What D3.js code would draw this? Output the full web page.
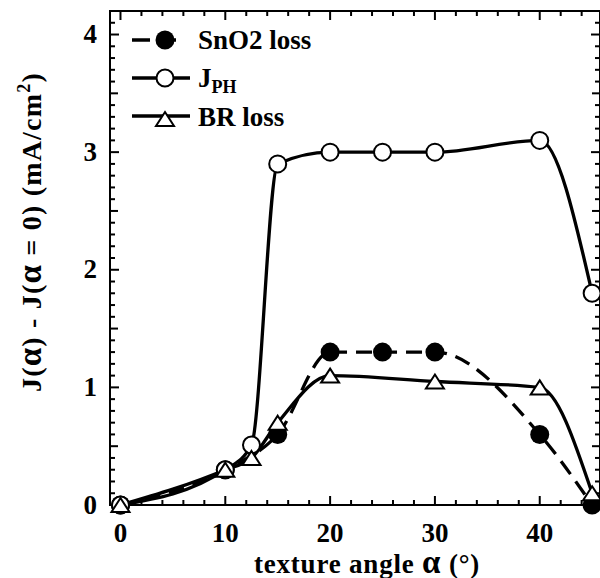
<!DOCTYPE html>
<html><head><meta charset="utf-8">
<script src="https://cdn.jsdelivr.net/npm/d3@7"></script>
<style>body{margin:0;background:#fff}svg{display:block}</style>
</head><body><svg id="c" width="600" height="578" font-family="Liberation Serif" font-weight="bold"></svg>
<script>
// Data
const angleJPH = [0, 10, 12.5, 15, 20, 25, 30, 40, 45];
const valJPH   = [0, 0.30, 0.51, 2.90, 3.00, 3.00, 3.00, 3.10, 1.80];
const angleSnO2 = [0, 10, 15, 20, 25, 30, 40, 45];
const valSnO2   = [0, 0.30, 0.60, 1.30, 1.30, 1.30, 0.60, 0.00];
const angleBR = [0, 10, 12.5, 15, 20, 30, 40, 45];
const valBR   = [0, 0.30, 0.40, 0.70, 1.10, 1.05, 1.00, 0.10];
const xTicks = [0, 10, 20, 30, 40];
const yTicks = [0, 1, 2, 3, 4];
const legendLabels = ["SnO2 loss", "J", "BR loss"];

const svg = d3.select("#c");
const FONT = "Liberation Serif";
function txt(sel) { return sel.append("text").attr("font-family", FONT).attr("font-weight", "bold").attr("fill", "#000"); }

const L = 110, R = 600, T = 11, B = 505;
const x = d3.scaleLinear().domain([-1, 45.75]).range([L, R]);
const y = d3.scaleLinear().domain([0, 4.2]).range([B, T]);

// frame
svg.append("rect").attr("x", L).attr("y", T).attr("width", R - L).attr("height", B - T)
  .attr("fill", "none").attr("stroke", "#000").attr("stroke-width", 2);

// ticks
const xMinor = d3.range(0, 45, 2);
const yMinor = d3.range(0, 42).map(i => i / 10);
const g = svg.append("g").attr("stroke", "#000").attr("stroke-width", 2);
xMinor.forEach(v => {
  const len = (v % 10 === 0) ? 9 : 5;
  g.append("line").attr("x1", x(v)).attr("x2", x(v)).attr("y1", B).attr("y2", B - len);
  g.append("line").attr("x1", x(v)).attr("x2", x(v)).attr("y1", T).attr("y2", T + len);
});
yMinor.forEach(v => {
  const r10 = Math.round(v * 10);
  const len = (r10 % 10 === 0) ? 9 : (r10 % 5 === 0 ? 8 : 5);
  g.append("line").attr("x1", L).attr("x2", L + len).attr("y1", y(v)).attr("y2", y(v));
  g.append("line").attr("x1", R).attr("x2", R - len).attr("y1", y(v)).attr("y2", y(v));
});

// tick labels
xTicks.forEach(d => txt(svg).attr("x", x(d)).attr("y", 542).attr("text-anchor", "middle").attr("font-size", 27).text(d));
yTicks.forEach(d => txt(svg).attr("x", 97).attr("y", y(d) + 8.5).attr("text-anchor", "end").attr("font-size", 27).text(d));

// axis titles
const xl = txt(svg).attr("x", 367).attr("y", 573).attr("text-anchor", "middle").attr("font-size", 27).attr("letter-spacing", 0.8);
xl.append("tspan").text("texture angle ");
xl.append("tspan").attr("font-size", 33).text("α");
xl.append("tspan").text(" (°)");
const yl = txt(svg).attr("transform", "translate(41,232) rotate(-90)").attr("text-anchor", "middle").attr("font-size", 28).attr("letter-spacing", 1.2);
yl.append("tspan").text("J(");
yl.append("tspan").attr("font-size", 33).text("α");
yl.append("tspan").text(") - J(");
yl.append("tspan").attr("font-size", 33).text("α");
yl.append("tspan").text(" = 0) (mA/cm");
yl.append("tspan").attr("font-size", 18).attr("dy", -11).text("2");
yl.append("tspan").attr("dy", 11).text(")");

// lines
const line = d3.line().x(d => x(d[0])).y(d => y(d[1])).curve(d3.curveMonotoneX);
const sJ = d3.zip(angleJPH, valJPH), sS = d3.zip(angleSnO2, valSnO2), sB = d3.zip(angleBR, valBR);
svg.append("path").attr("d", line(sS)).attr("fill", "none").attr("stroke", "#000").attr("stroke-width", 3.3).attr("stroke-dasharray", "16,9");
svg.append("path").attr("d", line(sB)).attr("fill", "none").attr("stroke", "#000").attr("stroke-width", 3.3);
svg.append("path").attr("d", line(sJ)).attr("fill", "none").attr("stroke", "#000").attr("stroke-width", 3.3);

const triPath = "M0,-7L9,7L-9,7Z";
function marker(sel, kind, cx, cy) {
  if (kind === "filled") sel.append("circle").attr("cx", cx).attr("cy", cy).attr("r", 9.5).attr("fill", "#000");
  else if (kind === "open") sel.append("circle").attr("cx", cx).attr("cy", cy).attr("r", 8.5).attr("fill", "#fff").attr("stroke", "#000").attr("stroke-width", 2);
  else sel.append("path").attr("d", triPath).attr("transform", `translate(${cx},${cy})`).attr("fill", "#fff").attr("stroke", "#000").attr("stroke-width", 2);
}
function drawMarkers(data, kind) {
  const gg = svg.append("g");
  data.forEach(d => marker(gg, kind, x(d[0]), y(d[1])));
}
drawMarkers(sS, "filled");
drawMarkers(sJ, "open");
drawMarkers(sB, "tri");

// legend
const lineY = [40, 78, 116];
const markY = [40, 78, 119];
const textY = [49, 87, 126];
const kinds = ["filled", "open", "tri"];
kinds.forEach((k, i) => {
  const ln = svg.append("line").attr("x1", 132).attr("x2", i === 0 ? 180 : 190).attr("y1", lineY[i]).attr("y2", lineY[i])
    .attr("stroke", "#000").attr("stroke-width", 3.3);
  if (i === 0) ln.attr("stroke-dasharray", "18,8");
  marker(svg, k, 165, markY[i]);
  const t = txt(svg).attr("x", 198).attr("y", textY[i]).attr("font-size", 27);
  t.append("tspan").text(legendLabels[i]);
  if (i === 1) t.append("tspan").attr("font-size", 18).attr("dy", 6).text("PH");
});
</script></body></html>
